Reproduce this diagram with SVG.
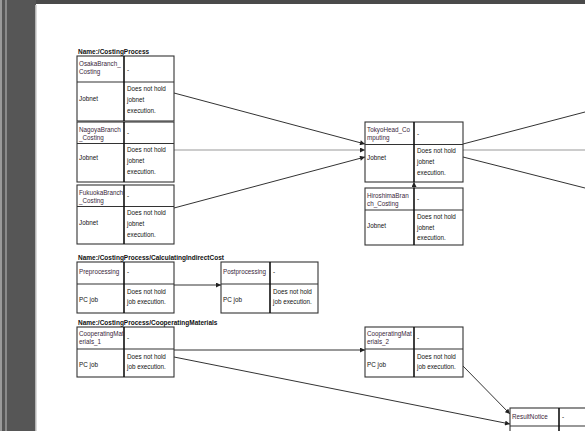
<svg xmlns="http://www.w3.org/2000/svg" width="585" height="431" viewBox="0 0 585 431">
<style>
.frame{fill:#565656}
.box{fill:#fff;stroke:#333;stroke-width:1.1}
.div{stroke:#111;stroke-width:1.6}
.hdiv{stroke:#333;stroke-width:1.1}
text{font-family:"Liberation Sans",Arial,sans-serif;font-size:6.3px;fill:#111}
.nm{fill:#3a1f3a}
.title{font-weight:bold;font-size:6.5px;fill:#111}
.c{fill:none;stroke:#333;stroke-width:1}
.g{fill:none;stroke:#9a9a9a;stroke-width:1.2}
</style>
<defs>
<marker id="ah" viewBox="0 0 10 10" refX="10" refY="5" markerWidth="6" markerHeight="5" markerUnits="userSpaceOnUse" orient="auto">
<path d="M0,0L10,5L0,10z" fill="#222"/>
</marker>
</defs>
<rect width="585" height="431" fill="#fff"/>
<g id="frame">
<rect x="0" y="0" width="36" height="431" class="frame"/>
<rect x="0" y="0" width="2" height="431" fill="#9a9a9a"/>
<rect x="5" y="0" width="2" height="431" fill="#8a8a8a"/>
<rect x="35" y="5" width="1.5" height="426" fill="#b5b5b5"/>
<rect x="36" y="0" width="549" height="4" fill="#4a4a4a"/>
</g>
<g id="titles">
<text class="title" x="78" y="54">Name:/CostingProcess</text>
<text class="title" x="78" y="260">Name:/CostingProcess/CalculatingIndirectCost</text>
<text class="title" x="78" y="325">Name:/CostingProcess/CooperatingMaterials</text>
</g>
<g id="connectors">
<line class="c" x1="174" y1="93" x2="365" y2="144" marker-end="url(#ah)"/>
<line class="g" x1="174" y1="150" x2="365" y2="150" marker-end="url(#ah)"/>
<line class="c" x1="174" y1="208" x2="365" y2="157" marker-end="url(#ah)"/>
<line class="c" x1="463" y1="144" x2="585" y2="112"/>
<line class="g" x1="463" y1="150" x2="585" y2="150"/>
<line class="c" x1="463" y1="157" x2="585" y2="188"/>
<line class="c" x1="414" y1="188" x2="414" y2="182" marker-end="url(#ah)"/>
<line class="c" x1="174" y1="285" x2="221" y2="285" marker-end="url(#ah)"/>
<line class="c" x1="174" y1="350" x2="365" y2="350" marker-end="url(#ah)"/>
<line class="c" x1="174" y1="357" x2="510" y2="424" marker-end="url(#ah)"/>
<line class="c" x1="463" y1="366" x2="510" y2="414" marker-end="url(#ah)"/>
</g>
<g id="osaka">
<rect class="box" x="77" y="56" width="97" height="65"/>
<line class="hdiv" x1="77" y1="82" x2="174" y2="82"/>
<line class="div" x1="124" y1="56" x2="124" y2="121"/>
<text class="nm" x="79" y="66.3">OsakaBranch_</text>
<text class="nm" x="79" y="74.3">Costing</text>
<text x="127" y="71.5">-</text>
<text x="79" y="101.3">Jobnet</text>
<text x="127" y="91.3">Does not hold</text>
<text x="127" y="102.3">jobnet</text>
<text x="127" y="113.3">execution.</text>
</g>
<g id="nagoya">
<rect class="box" x="77" y="122" width="97" height="60"/>
<line class="hdiv" x1="77" y1="143.5" x2="174" y2="143.5"/>
<line class="div" x1="124" y1="122" x2="124" y2="182"/>
<text class="nm" x="79" y="132.3">NagoyaBranch</text>
<text class="nm" x="79" y="140.3">_Costing</text>
<text x="127" y="135">-</text>
<text x="79" y="160.3">Jobnet</text>
<text x="127" y="152.3">Does not hold</text>
<text x="127" y="163.3">jobnet</text>
<text x="127" y="174.3">execution.</text>
</g>
<g id="fukuoka">
<rect class="box" x="77" y="185" width="97" height="59"/>
<line class="hdiv" x1="77" y1="206.5" x2="174" y2="206.5"/>
<line class="div" x1="124" y1="185" x2="124" y2="244"/>
<text class="nm" x="79" y="195.3">FukuokaBranch</text>
<text class="nm" x="79" y="203.3">_Costing</text>
<text x="127" y="198">-</text>
<text x="79" y="225.3">Jobnet</text>
<text x="127" y="215.3">Does not hold</text>
<text x="127" y="226.3">jobnet</text>
<text x="127" y="237.3">execution.</text>
</g>
<g id="tokyo">
<rect class="box" x="365" y="122" width="98" height="60"/>
<line class="hdiv" x1="365" y1="144.5" x2="463" y2="144.5"/>
<line class="div" x1="414" y1="122" x2="414" y2="182"/>
<text class="nm" x="367" y="132.3">TokyoHead_Co</text>
<text class="nm" x="367" y="140.3">mputing</text>
<text x="417" y="135.5">-</text>
<text x="367" y="160.3">Jobnet</text>
<text x="417" y="153.3">Does not hold</text>
<text x="417" y="164.3">jobnet</text>
<text x="417" y="175.3">execution.</text>
</g>
<g id="hiroshima">
<rect class="box" x="365" y="188" width="98" height="57"/>
<line class="hdiv" x1="365" y1="210" x2="463" y2="210"/>
<line class="div" x1="414" y1="188" x2="414" y2="245"/>
<text class="nm" x="367" y="198.3">HiroshimaBran</text>
<text class="nm" x="367" y="206.3">ch_Costing</text>
<text x="417" y="201">-</text>
<text x="367" y="228.3">Jobnet</text>
<text x="417" y="219.3">Does not hold</text>
<text x="417" y="230.3">jobnet</text>
<text x="417" y="240.3">execution.</text>
</g>
<g id="preprocessing">
<rect class="box" x="77" y="262" width="97" height="51"/>
<line class="hdiv" x1="77" y1="284" x2="174" y2="284"/>
<line class="div" x1="124" y1="262" x2="124" y2="313"/>
<text class="nm" x="79" y="274.3">Preprocessing</text>
<text x="127" y="274.3">-</text>
<text x="79" y="302.3">PC job</text>
<text x="127" y="294.3">Does not hold</text>
<text x="127" y="304.3">job execution.</text>
</g>
<g id="postprocessing">
<rect class="box" x="221" y="262" width="97" height="51"/>
<line class="hdiv" x1="221" y1="284" x2="318" y2="284"/>
<line class="div" x1="270" y1="262" x2="270" y2="313"/>
<text class="nm" x="223" y="274.3">Postprocessing</text>
<text x="273" y="274.3">-</text>
<text x="223" y="302.3">PC job</text>
<text x="273" y="294.3">Does not hold</text>
<text x="273" y="304.3">job execution.</text>
</g>
<g id="cooperating1">
<rect class="box" x="77" y="327" width="97" height="50"/>
<line class="hdiv" x1="77" y1="349" x2="174" y2="349"/>
<line class="div" x1="124" y1="327" x2="124" y2="377"/>
<text class="nm" x="79" y="336">CooperatingMat</text>
<text class="nm" x="79" y="344">erials_1</text>
<text x="127" y="340">-</text>
<text x="79" y="367.3">PC job</text>
<text x="127" y="359.3">Does not hold</text>
<text x="127" y="369.3">job execution.</text>
</g>
<g id="cooperating2">
<rect class="box" x="365" y="327" width="98" height="50"/>
<line class="hdiv" x1="365" y1="349" x2="463" y2="349"/>
<line class="div" x1="414" y1="327" x2="414" y2="377"/>
<text class="nm" x="367" y="336">CooperatingMat</text>
<text class="nm" x="367" y="344">erials_2</text>
<text x="417" y="340">-</text>
<text x="367" y="367.3">PC job</text>
<text x="417" y="359.3">Does not hold</text>
<text x="417" y="369.3">job execution.</text>
</g>
<g id="resultnotice">
<rect class="box" x="510" y="408" width="98" height="40"/>
<line class="hdiv" x1="510" y1="426" x2="608" y2="426"/>
<line class="div" x1="559" y1="408" x2="559" y2="448"/>
<text class="nm" x="512" y="418.5">ResultNotice</text>
<text x="562" y="418.5">-</text>
</g>
</svg>
